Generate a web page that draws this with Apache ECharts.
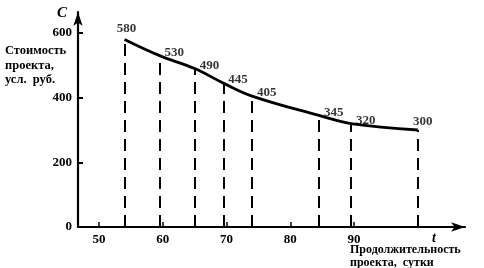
<!DOCTYPE html>
<html><head><meta charset="utf-8">
<script src="https://cdn.jsdelivr.net/npm/echarts@6/dist/echarts.min.js"></script>
<style>html,body{margin:0;padding:0;background:#fff}#c{width:484px;height:268px}</style>
</head><body><div id="c"></div>
<script>
var durations = [54, 59.5, 65, 69.5, 74, 84.5, 89.5, 100];
var costs = [580, 530, 490, 445, 405, 345, 320, 300];
var xTicks = [50, 60, 70, 80, 90];
var yTicks = [0, 200, 400, 600];

var F = 'Liberation Serif';
var pts = durations.map(function (d, i) { return [d, costs[i]]; });
var lastIdx = pts.length - 1;
var labelData = pts.map(function (p, i) {
  var item = { value: p };
  if (i === 0) item.label = { position: 'top', distance: 4, offset: [2, 0] };
  if (i === lastIdx) item.label = { position: 'top', distance: 2, offset: [5, 0] };
  return item;
});
var chart = echarts.init(document.getElementById('c'));
chart.setOption({
  animation: false,
  backgroundColor: '#fff',
  grid: { left: 78, right: 19, top: 12, bottom: 41 },
  xAxis: {
    type: 'value', min: 46.7, max: 107.4,
    axisLine: { lineStyle: { color: '#000', width: 2.2 }, symbol: ['none', 'arrow'], symbolSize: [7, 14] },
    axisTick: { inside: true, length: 5, lineStyle: { color: '#000', width: 1.5 }, customValues: xTicks },
    axisLabel: { customValues: xTicks, color: '#000', fontFamily: F, fontWeight: 'bold', fontSize: 13, margin: 6 },
    splitLine: { show: false }
  },
  yAxis: {
    type: 'value', min: 0, max: 665,
    axisLine: { show: true, lineStyle: { color: '#000', width: 2.2 }, symbol: ['none', 'arrow'], symbolSize: [7, 14] },
    axisTick: { show: true, inside: true, length: 5, lineStyle: { color: '#000', width: 2 }, customValues: yTicks.slice(1) },
    axisLabel: { customValues: yTicks, color: '#000', fontFamily: F, fontWeight: 'bold', fontSize: 13, margin: 6 },
    splitLine: { show: false }
  },
  series: [{
    type: 'line', data: pts, smooth: 0.4, symbol: 'none',
    lineStyle: { color: '#000', width: 2.8 },
    label: { show: false },
    markLine: {
      silent: true, symbol: ['none', 'none'], label: { show: false },
      lineStyle: { color: '#000', width: 2, type: [12, 7] },
      data: pts.map(function (p) { return [{ coord: [p[0], 0] }, { coord: [p[0], p[1]] }]; })
    }
  }, {
    type: 'scatter', data: labelData, symbolSize: 0,
    label: {
      show: true, position: 'right', distance: 5, offset: [0, -3],
      color: '#000', fontFamily: F, fontWeight: 'bold', fontSize: 13,
      formatter: function (p) { return p.value[1]; }
    }
  }],
  graphic: [
    { type: 'text', left: 57, top: 6, style: { text: 'С', font: 'italic bold 15px ' + F, fill: '#000' } },
    { type: 'text', left: 5, top: 44, style: { text: 'Стоимость\nпроекта,\nусл.  руб.', font: 'bold 12.5px ' + F, lineHeight: 14.5, fill: '#000' } },
    { type: 'text', left: 432, top: 231, style: { text: 't', font: 'italic bold 14px ' + F, fill: '#000' } },
    { type: 'text', left: 350, top: 244, style: { text: 'Продолжительность\nпроекта,  сутки', font: 'bold 12px ' + F, lineHeight: 12.5, fill: '#000' } }
  ]
});
</script></body></html>
